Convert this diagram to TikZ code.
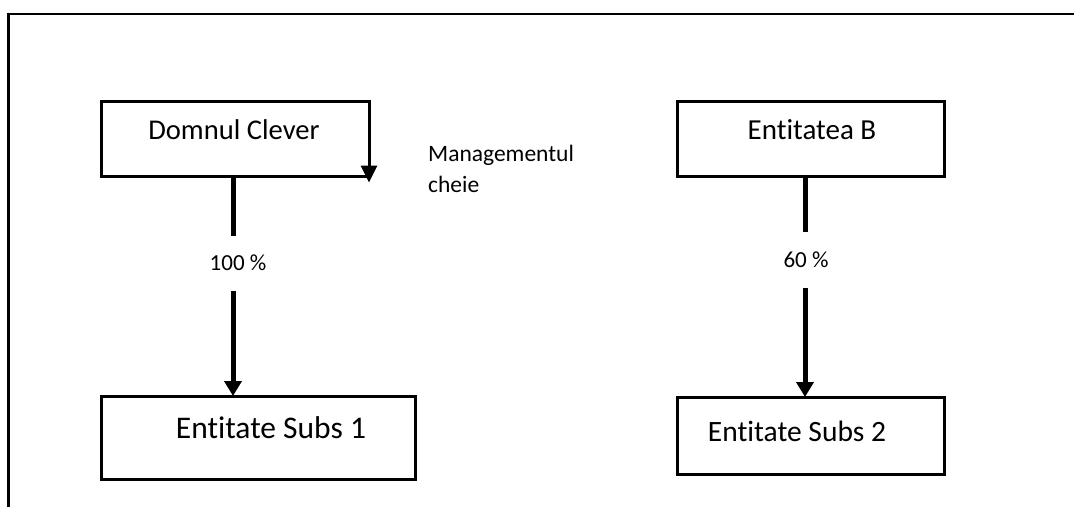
\documentclass[tikz,border=0pt]{standalone}
\usepackage{fontspec}
\setmainfont{Carlito}[Ligatures=NoCommon]
\usetikzlibrary{arrows.meta}
\begin{document}
\begin{tikzpicture}[x=1pt,y=-1pt,
  box/.style={draw,line width=3pt,inner sep=0pt,outer sep=0pt},
  seg/.style={line width=5pt},
  conn/.style={line width=5pt,-{Triangle[width=17pt,length=15pt]}},
  pct/.style={inner sep=0pt,outer sep=0pt,minimum height=55pt,font=\fontsize{23}{28}\selectfont},
  big/.style={anchor=base,inner sep=0pt},
]
\useasboundingbox (0,0) rectangle (1074,507);
% open frame: top and left sides only
\draw[line width=2.5pt] (8.5,507) -- (8.5,14) -- (1074,14);

% boxes
\node[box,minimum width=268pt,minimum height=75pt] (dc) at (235,138.5) {};
\node[box,minimum width=267pt,minimum height=75pt] (eb) at (811,138.5) {};
\node[box,minimum width=314pt,minimum height=83pt] (s1) at (258.5,437.5) {};
\node[box,minimum width=267pt,minimum height=77pt] (s2) at (811,435.5) {};

% box texts
\node[big,font=\fontsize{28.6}{34}\selectfont] (dct) at (234,139) {Domnul Clever};
\node[big,font=\fontsize{29}{35}\selectfont] (ebt) at (812,139.3) {Entitatea B};
\node[big,font=\fontsize{31.5}{38}\selectfont] (s1t) at (271,438.3) {Entitate Subs 1};
\node[big,font=\fontsize{29.5}{35}\selectfont] (s2t) at (797,441) {Entitate Subs 2};

% side note (base anchor sits on the last line)
\node[anchor=base west,align=left,inner sep=0pt,font=\fontsize{23.5}{31.5}\selectfont] (mk) at (428,192.5) {Managementul\\cheie};

% small arrow on the right edge of the first box
\coordinate (dctip) at ([yshift=-6.5pt]dc.south east);
\draw[line width=3pt,-{Triangle[width=16pt,length=17pt]}] (dc.east) -- (dctip);

% ownership links
\node[pct] (p100) at (238,263) {100 \%};
\draw[seg] ([xshift=-2pt]dc.south) -- ([xshift=-2pt]dc.south |- p100.north);
\draw[conn] ([xshift=-2pt]dc.south |- p100.south) -- ([xshift=-2pt]dc.south |- s1.north);

\node[pct,minimum height=56pt] (p60) at (806,260) {60 \%};
\draw[seg] ([xshift=-6pt]eb.south) -- ([xshift=-6pt]eb.south |- p60.north);
\draw[conn] ([xshift=-6pt]eb.south |- p60.south) -- ([xshift=-6pt]eb.south |- s2.north);
\end{tikzpicture}
\end{document}
